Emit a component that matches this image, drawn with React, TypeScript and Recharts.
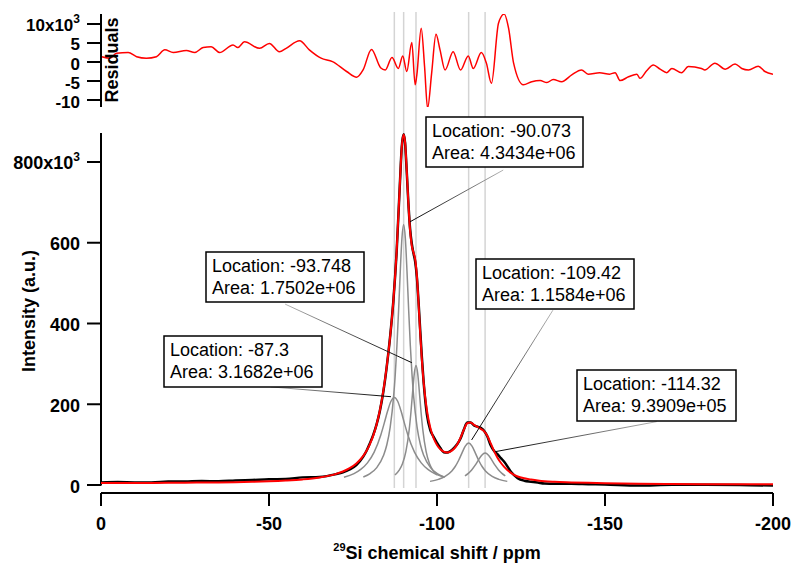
import { ComposedChart, Line, XAxis, YAxis, ReferenceLine } from "recharts";

const W = 795;
const H = 565;
const FONT = "'Liberation Sans', Arial, Helvetica, sans-serif";

// axis ticks
const ppmTicks = [0, -50, -100, -150, -200];
const intensityTicks = [0, 200, 400, 600, 800];
const residualTicks = [-10, -5, 0, 5, 10];

// fitted peaks
const peakLocations = [-87.3, -90.073, -93.748, -109.42, -114.32];
const peakAreas = ["3.1682e+06", "4.3434e+06", "1.7502e+06", "1.1584e+06", "9.3909e+05"];

// spectrum grid (ppm) with fit (red) and measured (black), intensity in 10^3
const shiftPpm = [
  0, -5, -10, -15, -20, -25, -30, -35, -40, -45, -50, -55, -60, -65, -70,
  -72, -74, -76, -78,
  -79, -80, -81, -82, -83, -84, -85, -86, -87, -88, -89,
  -89.5, -90.07, -90.5,
  -91, -91.5, -92, -92.5, -93, -93.5, -94, -94.5, -95, -95.5, -96,
  -97, -98, -99, -100, -101, -102, -103, -104, -105, -106, -107, -108, -109, -110, -111, -112, -113, -114, -115, -116, -117, -118, -119, -120,
  -122, -124, -126, -128, -130, -132,
  -135, -140, -145, -150,
  -160, -170, -180, -190, -200,
];
const fitIntensity = [
  5.0, 5.0, 5.1, 5.2, 5.4, 5.7, 6.1, 6.5, 7.1, 8.0, 9.2, 11.1, 13.9, 18.7, 27.6,
  33.4, 41.6, 53.5, 71.7,
  84.2, 100.6, 121.6, 149.1, 185.1, 231.7, 290.7, 363.3, 454.5, 580.6, 754.5,
  835, 868, 849,
  777.6, 695.3, 630, 592.4, 575.8, 559.4, 519, 451.9, 376.7, 309.6, 256.4,
  184.5, 142.1, 115.8, 99.1, 88.6, 82.8, 80.8, 82.8, 89.1, 100.3, 117.1, 137, 153, 155, 149, 144.1, 139.2, 133.5, 121.5, 103, 84, 67.8, 55.2, 45,
  30, 21, 16.5, 13.5, 11, 9.2,
  7.8, 6.5, 5.3, 4.3,
  3.0, 2.4, 2.0, 1.8, 1.7,
];
const dataIntensity = [
  6.4, 7.3, 6.5, 6.4, 8.4, 8.7, 9.7, 9.2, 11.1, 12.5, 14.1, 14.7, 18.9, 20.0, 27.0,
  31.4, 38.6, 49.5, 69.6,
  84.2, 103.1, 123.6, 149.4, 183.6, 229.7, 290.2, 363.8, 455.0, 579.6, 754.0,
  836.0, 868.5, 847.5,
  775.1, 695.8, 633.5, 597.5, 573.8, 553.4, 515.6, 454.4, 383.7, 316.1, 257.4,
  174.5, 136.1, 119.3, 104.6, 91.4, 81.3, 80.3, 84.3, 91.5, 100.8, 115.0, 137.5, 154.6, 155, 147.5, 144.6, 141.6, 134.5, 120.0, 97.7, 84.0, 76.3, 66.7, 57.6,
  33.0, 17.0, 10.5, 8.3, 6.1, 3.8,
  3.0, 3.1, 2.1, 1.2,
  -1.3, 0.6, 0.5, 0.1, -1.5,
];

// component peaks [ppm, intensity 10^3]
const peak1 = [
  [-72.3, 19.0], [-75.3, 28.3], [-77.3, 38.6], [-79.3, 54.8], [-81.3, 81.4], [-83.3, 124.7], [-84.3, 153.2],
  [-85.3, 183.1], [-86.3, 207.4], [-87.3, 217], [-88.3, 207.4], [-89.3, 183.1], [-90.3, 153.2], [-91.3, 124.7],
  [-93.3, 81.4], [-95.3, 54.8], [-97.3, 38.6], [-99.3, 28.3], [-102.3, 19.0],
];
const peak2 = [
  [-78.07, 19.9], [-80.07, 28.3], [-82.07, 43.1], [-84.07, 72.8], [-85.07, 99.8], [-86.07, 143.6], [-87.07, 217.5],
  [-87.57, 272.7], [-88.07, 344.4], [-88.57, 432.6], [-89.07, 529.6], [-89.57, 611.6], [-90.07, 645],
  [-90.57, 611.6], [-91.07, 529.6], [-91.57, 432.6], [-92.07, 344.4], [-92.57, 272.7], [-93.07, 217.5],
  [-94.07, 143.6], [-95.07, 99.8], [-96.07, 72.8], [-98.07, 43.1], [-100.07, 28.3], [-102.07, 19.9],
];
const peak3 = [
  [-87.5, 24.6], [-88.75, 36.7], [-89.75, 53.5], [-90.75, 83.5], [-91.75, 138.8], [-92.25, 180.8], [-92.75, 230.7],
  [-93.25, 276.5], [-93.75, 296], [-94.25, 276.5], [-94.75, 230.7], [-95.25, 180.8], [-95.75, 138.8],
  [-96.75, 83.5], [-97.75, 53.5], [-98.75, 36.7], [-100, 24.6],
];
const peak4 = [
  [-97.92, 9.0], [-100.42, 14.0], [-102.42, 21.3], [-104.42, 34.9], [-105.42, 45.8], [-106.42, 60.7], [-107.42, 79.0],
  [-108.42, 96.4], [-109.42, 104], [-110.42, 96.4], [-111.42, 79.0], [-112.42, 60.7], [-113.42, 45.8],
  [-114.42, 34.9], [-116.42, 21.3], [-118.42, 14.0], [-120.92, 9.0],
];
const peak5 = [
  [-108.32, 22.4], [-109.32, 28.7], [-110.32, 37.3], [-111.32, 48.5], [-112.32, 61.7], [-113.32, 73.8], [-114.32, 79],
  [-115.32, 73.8], [-116.32, 61.7], [-117.32, 48.5], [-118.32, 37.3], [-119.32, 28.7], [-120.32, 22.4],
];

// residuals [ppm, 10^3]
const residuals = [
  [-0.2, 1.4], [-2.7, 1.0], [-4.6, 2.3], [-8.1, 2.5], [-10.6, 1.4], [-13.5, 1.0], [-16.5, 1.4], [-19, 3.2],
  [-21.5, 2.5], [-25.4, 3.0], [-27.9, 2.5], [-30.4, 3.8], [-32.8, 4.0], [-35.3, 2.5], [-39.3, 4.5], [-40.7, 3.8],
  [-42.7, 5.3], [-47.2, 3.6], [-50.1, 4.9], [-53.1, 2.7], [-55.1, 3.6], [-59.1, 5.6], [-62, 3.2], [-65.5, 1.0],
  [-68.9, 0.1], [-73.1, -2.5], [-76.1, -4.0], [-78, -2.1], [-80.5, 3.3], [-83.2, -1.5], [-84.6, -2.1], [-86.6, 1.2],
  [-88.5, -1.7], [-89.8, 1.6], [-91, -2.5], [-92.5, 5.1], [-93.5, -6.0], [-94, -3.4], [-95.3, 8.9], [-96.3, -1.2],
  [-97.2, -12.2], [-98.4, -3.0], [-99.7, 7.3], [-100.9, 3.2], [-102.4, -2.1], [-104.8, 2.7], [-107, -2.1],
  [-109.3, 1.6], [-110.8, -1.7], [-113.2, 2.5], [-114.7, -0.3], [-116.2, -5.6], [-118.3, 10.2], [-120, 12.6],
  [-121.3, 8.9], [-122.8, -0.3], [-125.7, -6.0], [-128.2, -5.2], [-130.7, -4.9], [-132.7, -5.4], [-134.6, -4.6],
  [-137.1, -5.2], [-140.1, -3.4], [-143, -2.1], [-145, -3.2], [-148.4, -2.8], [-151.4, -3.2], [-153, -2.8],
  [-154.5, -4.9], [-157, -3.9], [-159.5, -3.2], [-160.4, -4.3], [-162.4, -2.3], [-164.4, -0.8], [-166.4, -1.9],
  [-168.4, -2.8], [-169.9, -1.7], [-172.8, -2.8], [-174.8, -1.2], [-178.7, -1.7], [-179.7, -2.1], [-182.7, -0.3],
  [-185.8, -1.9], [-188.7, -0.5], [-190.7, -1.7], [-192.7, -2.1], [-195.6, -1.1], [-197.6, -2.5], [-200, -3.2],
];

// tag boxes (px) and leader lines (ppm, intensity), same order as peakLocations
const tagLayout = [
  { box: [164, 336, 158, 51], from: [-50.5, 243], to: [-86.3, 218.7], grad: "tagTL" },
  { box: [426, 117, 157, 50], from: [-119.7, 780], to: [-92.0, 652], grad: "tagTR" },
  { box: [206, 252, 158, 50], from: [-54.8, 448], to: [-92.5, 303], grad: "tagTL" },
  { box: [476, 259, 158, 50], from: [-134.5, 433], to: [-110.3, 111.5], grad: "tagTR" },
  { box: [577, 370, 159, 51], from: [-165.4, 157], to: [-117.3, 82.5], grad: "tagTR" },
];

const fitSeries = shiftPpm.map((x, i) => ({ x, y: fitIntensity[i] }));
const dataSeries = shiftPpm.map((x, i) => ({ x, y: dataIntensity[i] }));
const peakSeries = [peak1, peak2, peak3, peak4, peak5].map((p) => p.map(([x, y]) => ({ x, y })));
const residualSeries = residuals.map(([x, r]) => ({ x, r }));
const guideSeries = peakLocations.map((x) => ({ x, y: 0 }));

const yDomain = [-19.8, 871.8];
const rDomain = [-11.84, 12.63];

function YTick(props: any) {
  const { x, y, payload, topValue, size } = props;
  const v = payload.value;
  const isTop = v === topValue;
  return (
    <text x={x} y={y + 7.5} textAnchor="end" fontFamily={FONT} fontWeight={700} fontSize={size} fill="#000">
      {String(v)}
      {isTop ? "x10" : ""}
      {isTop && (
        <tspan dy={-8} fontSize={12}>
          3
        </tspan>
      )}
    </text>
  );
}

function XTick(props: any) {
  const { x, y, payload } = props;
  return (
    <text x={x} y={y + 22} textAnchor="middle" fontFamily={FONT} fontWeight={700} fontSize={18} fill="#000">
      {String(payload.value)}
    </text>
  );
}

const abs = { position: "absolute" as const, left: 0, top: 0 };

export default function App() {
  return (
    <div style={{ position: "absolute", left: 0, top: 0, width: W, height: H, background: "#fff" }}>
      {/* peak position guides through both panels */}
      <div style={abs}>
        <ComposedChart width={W} height={H} data={guideSeries} margin={{ top: 12, right: 22, bottom: 77, left: 101 }}>
          <XAxis type="number" dataKey="x" domain={[-200, 0]} reversed hide allowDataOverflow />
          <YAxis type="number" domain={[0, 1]} hide allowDataOverflow />
          <Line dataKey="y" stroke="none" dot={false} isAnimationActive={false} />
          {peakLocations.map((p) => (
            <ReferenceLine
              key={p}
              segment={[{ x: p, y: 0 }, { x: p, y: 1 }]}
              stroke="#d4d4d4"
              strokeWidth={1.5}
              ifOverflow="visible"
            />
          ))}
        </ComposedChart>
      </div>

      {/* main spectrum */}
      <div style={abs}>
        <ComposedChart width={W} height={H} margin={{ top: 133, right: 22, bottom: 12, left: 11 }}>
          <XAxis
            type="number"
            dataKey="x"
            domain={[-200, 0]}
            reversed
            allowDataOverflow
            ticks={ppmTicks}
            interval={0}
            height={60}
            tickSize={13}
            axisLine={{ stroke: "#000", strokeWidth: 2 }}
            tickLine={{ stroke: "#000", strokeWidth: 2 }}
            tick={(p: any) => <XTick {...p} />}
          />
          <YAxis
            type="number"
            domain={yDomain}
            ticks={intensityTicks}
            interval={0}
            allowDataOverflow
            width={90}
            tickSize={14}
            tickMargin={7}
            axisLine={false}
            tickLine={{ stroke: "#000", strokeWidth: 2 }}
            tick={(p: any) => <YTick {...p} topValue={800} size={18} />}
          />
          <ReferenceLine
            segment={[{ x: 0, y: -1 }, { x: 0, y: yDomain[1] }]}
            stroke="#000"
            strokeWidth={2}
            ifOverflow="visible"
          />
          {peakSeries.map((s, i) => (
            <Line
              key={i}
              data={s}
              dataKey="y"
              type="monotone"
              stroke="#8c8c8c"
              strokeWidth={1.5}
              dot={false}
              isAnimationActive={false}
            />
          ))}
          <Line
            data={dataSeries}
            dataKey="y"
            type="monotone"
            stroke="#000"
            strokeWidth={2.5}
            dot={false}
            isAnimationActive={false}
          />
          <Line
            data={fitSeries}
            dataKey="y"
            type="monotone"
            stroke="#ff0000"
            strokeWidth={2}
            dot={false}
            isAnimationActive={false}
          />
          {tagLayout.map((t, i) => (
            <ReferenceLine
              key={"tag" + i}
              segment={[{ x: t.from[0], y: t.from[1] }, { x: t.to[0], y: t.to[1] }]}
              stroke={`url(#${t.grad})`}
              strokeWidth={1}
              ifOverflow="visible"
            />
          ))}
        </ComposedChart>
      </div>

      {/* residuals panel */}
      <div style={abs}>
        <ComposedChart width={W} height={H} margin={{ top: 14, right: 22, bottom: 458, left: 11 }}>
          <XAxis type="number" dataKey="x" domain={[-200, 0]} reversed hide allowDataOverflow />
          <YAxis
            type="number"
            domain={rDomain}
            ticks={residualTicks}
            interval={0}
            allowDataOverflow
            width={90}
            tickSize={14}
            tickMargin={7}
            axisLine={{ stroke: "#000", strokeWidth: 2 }}
            tickLine={{ stroke: "#000", strokeWidth: 2 }}
            tick={(p: any) => <YTick {...p} topValue={10} size={17} />}
          />
          <Line
            data={residualSeries}
            dataKey="r"
            type="monotone"
            stroke="#ff0000"
            strokeWidth={1.5}
            dot={false}
            isAnimationActive={false}
          />
        </ComposedChart>
      </div>

      {/* tags and axis titles */}
      <svg width={W} height={H} style={abs}>
        <defs>
          <linearGradient id="tagTL" x1="0" y1="0" x2="1" y2="1">
            <stop offset="0" stopColor="#b4b4b4" />
            <stop offset="1" stopColor="#000" />
          </linearGradient>
          <linearGradient id="tagTR" x1="1" y1="0" x2="0" y2="1">
            <stop offset="0" stopColor="#b4b4b4" />
            <stop offset="1" stopColor="#000" />
          </linearGradient>
        </defs>
        {tagLayout.map((t, i) => {
          const [bx, by, bw, bh] = t.box;
          return (
            <g key={i} fontFamily={FONT} fontSize={18} fill="#000">
              <rect x={bx} y={by} width={bw} height={bh} fill="#fff" stroke="#000" strokeWidth={1.5} />
              <text x={bx + 6} y={by + 20}>{`Location: ${peakLocations[i]}`}</text>
              <text x={bx + 6} y={by + 42}>{`Area: ${peakAreas[i]}`}</text>
            </g>
          );
        })}
        <text
          x={35}
          y={311}
          transform="rotate(-90 35 311)"
          textAnchor="middle"
          fontFamily={FONT}
          fontWeight={700}
          fontSize={18}
          fill="#000"
        >
          Intensity (a.u.)
        </text>
        <text
          x={118}
          y={60}
          transform="rotate(-90 118 60)"
          textAnchor="middle"
          fontFamily={FONT}
          fontWeight={700}
          fontSize={18}
          fill="#000"
        >
          Residuals
        </text>
        <text x={437} y={559} textAnchor="middle" fontFamily={FONT} fontWeight={700} fontSize={18} fill="#000">
          <tspan fontSize={11} dy={-8}>
            29
          </tspan>
          <tspan dy={8}>Si chemical shift / ppm</tspan>
        </text>
      </svg>
    </div>
  );
}
